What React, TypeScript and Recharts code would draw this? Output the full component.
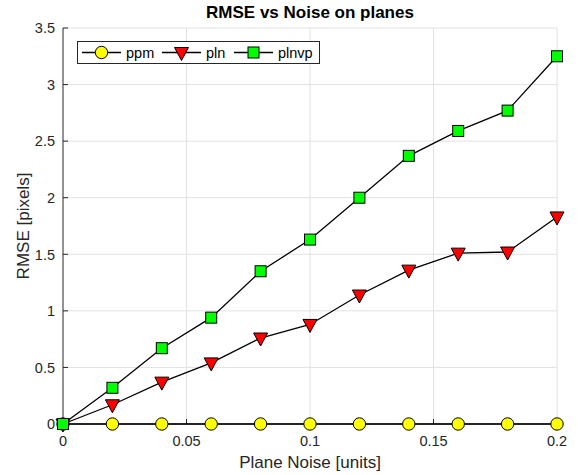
import { LineChart, Line, XAxis, YAxis, CartesianGrid, Legend } from "recharts";

const noise = [0, 0.02, 0.04, 0.06, 0.08, 0.1, 0.12, 0.14, 0.16, 0.18, 0.2];
const ppm = [0, 0, 0, 0, 0, 0, 0, 0, 0, 0, 0];
const pln = [0, 0.17, 0.37, 0.54, 0.76, 0.88, 1.14, 1.36, 1.51, 1.52, 1.83];
const plnvp = [0, 0.32, 0.67, 0.94, 1.35, 1.63, 2.0, 2.37, 2.59, 2.77, 3.25];
const xTicks = [0, 0.05, 0.1, 0.15, 0.2];
const yTicks = [0, 0.5, 1, 1.5, 2, 2.5, 3, 3.5];

const data = noise.map((n, i) => ({ noise: n, ppm: ppm[i], pln: pln[i], plnvp: plnvp[i] }));

const FONT = "'Liberation Sans', Arial, Helvetica, sans-serif";
const INK = "#262626";
const GRID = "#e2e2e2";

// marker shapes, MATLAB style
const CircleMark = ({ cx, cy }: any) => (
  <circle cx={cx} cy={cy} r={6.2} fill="#ffff00" stroke="#000" strokeWidth={1} />
);
const TriMark = ({ cx, cy }: any) => (
  <path d={`M${cx - 7},${cy - 5}L${cx + 7},${cy - 5}L${cx},${cy + 8}Z`} fill="#ff0000" stroke="#000" strokeWidth={1} />
);
const SquareMark = ({ cx, cy }: any) => (
  <rect x={cx - 5.5} y={cy - 5.5} width={11} height={11} fill="#00ff00" stroke="#000" strokeWidth={1} />
);

// grid lines also carry the axis lines and inward ticks, so markers sit on top of them
const HLine = (p: any) => {
  const isAxis = Math.abs(p.y1 - (p.y + p.height)) < 0.5;
  return (
    <g key={`h-${p.index}`}>
      <line x1={p.x1} y1={p.y1} x2={p.x2} y2={p.y2} stroke={isAxis ? INK : GRID} />
      <line x1={p.x1} y1={p.y1} x2={p.x1 + 5} y2={p.y1} stroke={INK} />
    </g>
  );
};

const VLine = (p: any) => {
  const isAxis = Math.abs(p.x1 - p.x) < 0.5;
  return (
    <g key={`v-${p.index}`}>
      <line x1={p.x1} y1={p.y1} x2={p.x2} y2={p.y2} stroke={isAxis ? INK : GRID} />
      <line x1={p.x1} y1={p.y2} x2={p.x1} y2={p.y2 - 5} stroke={INK} />
    </g>
  );
};

const XTick = ({ x, y, payload }: any) => (
  <text x={x} y={y + 22} textAnchor="middle" fill={INK} fontSize={14.5} fontFamily={FONT}>
    {payload.value}
  </text>
);

const YTick = ({ x, y, payload }: any) => (
  <text x={x - 8} y={y} dy="0.36em" textAnchor="end" fill={INK} fontSize={14.5} fontFamily={FONT}>
    {payload.value}
  </text>
);

const legendItems = [
  { name: "ppm", Mark: CircleMark, start: 5 },
  { name: "pln", Mark: TriMark, start: 85 },
  { name: "plnvp", Mark: SquareMark, start: 157 },
];

const LegendBox = () => (
  <svg width={243} height={23} style={{ display: "block" }}>
    <rect x={0.5} y={0.5} width={242} height={22} fill="#fff" stroke={INK} />
    {legendItems.map(({ name, Mark, start }) => (
      <g key={name}>
        <line x1={start} y1={11.5} x2={start + 39} y2={11.5} stroke="#000" strokeWidth={1.3} />
        <Mark cx={start + 19.5} cy={11.5} />
        <text x={start + 44} y={11.5} dy="0.36em" fill="#000" fontSize={14.5} fontFamily={FONT}>
          {name}
        </text>
      </g>
    ))}
  </svg>
);

const YLabel = ({ viewBox }: any) => {
  const cx = viewBox.x + 23;
  const cy = viewBox.y + viewBox.height / 2;
  return (
    <text x={cx} y={cy} dy="0.36em" transform={`rotate(-90, ${cx}, ${cy})`} textAnchor="middle" fill={INK} fontSize={17} fontFamily={FONT}>
      RMSE [pixels]
    </text>
  );
};

const XLabel = ({ viewBox }: any) => (
  <text x={viewBox.x + viewBox.width / 2} y={viewBox.y + 44} textAnchor="middle" fill={INK} fontSize={17} fontFamily={FONT}>
    Plane Noise [units]
  </text>
);

export default function App() {
  return (
    <div style={{ position: "absolute", left: 0, top: 0, width: 578, height: 475, background: "#fff" }}>
      <div
        style={{
          position: "absolute",
          left: 63,
          width: 494,
          top: 4,
          textAlign: "center",
          fontFamily: FONT,
          fontWeight: "bold",
          fontSize: 17,
          lineHeight: "17px",
          color: "#000",
          zIndex: 2,
        }}
      >
        RMSE vs Noise on planes
      </div>
      <LineChart width={578} height={475} data={data} margin={{ top: 28, right: 21, bottom: 0, left: 0 }}>
        <CartesianGrid horizontal={HLine} vertical={VLine} />
        <XAxis
          dataKey="noise"
          type="number"
          domain={[0, 0.2]}
          ticks={xTicks}
          height={51}
          tickSize={0}
          tickMargin={0}
          tickLine={false}
          tick={<XTick />}
          axisLine={false}
          label={<XLabel />}
        />
        <YAxis
          type="number"
          domain={[0, 3.5]}
          ticks={yTicks}
          width={63}
          tickSize={0}
          tickMargin={0}
          tickLine={false}
          tick={<YTick />}
          axisLine={false}
          label={<YLabel />}
        />
        <Legend
          layout="horizontal"
          verticalAlign="middle"
          align="center"
          content={<LegendBox />}
          wrapperStyle={{ left: 77, top: 41, width: 243, height: 23 }}
        />
        <Line
          dataKey="ppm"
          stroke="#000"
          strokeWidth={1.3}
          isAnimationActive={false}
          dot={(p: any) => <CircleMark key={`ppm-${p.index}`} cx={p.cx} cy={p.cy} />}
        />
        <Line
          dataKey="pln"
          stroke="#000"
          strokeWidth={1.3}
          isAnimationActive={false}
          dot={(p: any) => <TriMark key={`pln-${p.index}`} cx={p.cx} cy={p.cy} />}
        />
        <Line
          dataKey="plnvp"
          stroke="#000"
          strokeWidth={1.3}
          isAnimationActive={false}
          dot={(p: any) => <SquareMark key={`plnvp-${p.index}`} cx={p.cx} cy={p.cy} />}
        />
      </LineChart>
    </div>
  );
}
